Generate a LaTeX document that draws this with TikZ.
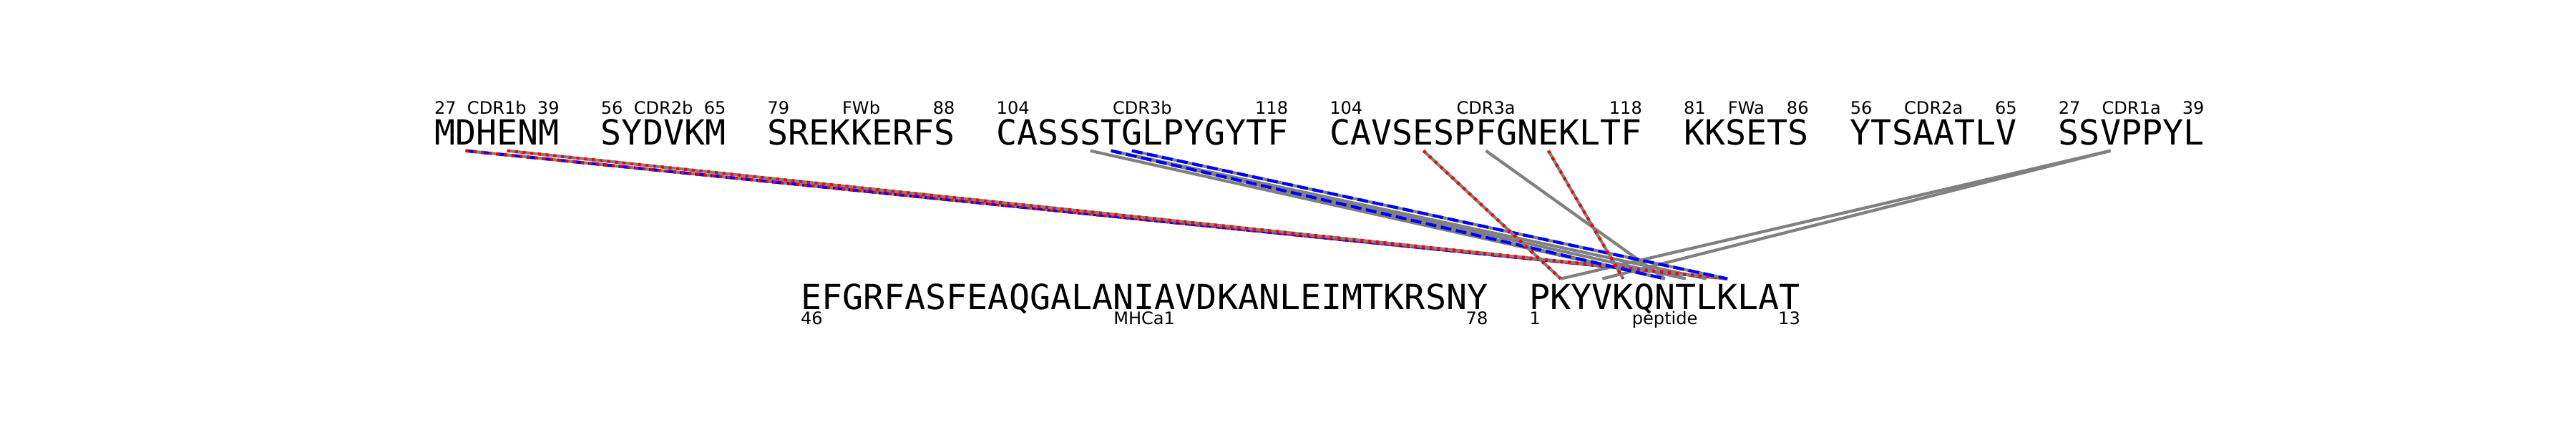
\documentclass[tikz,border=0pt]{standalone}
\usepackage{fontspec}
\usepackage{tikz}
\usetikzlibrary{calc}
\newfontfamily\seqfont{DejaVu Sans Mono}
\newfontfamily\labfont{DejaVu Sans}
\newcommand{\resw}{0.291}
% one node per residue, #1 name, #2 x of first cell, #3 baseline, #4 letters
\newcommand{\seqrow}[4]{%
  \foreach \c [count=\i] in {#4}
    \node[res] (#1-\i) at ({#2+(\i-0.5)*\resw},#3) {\c};}
% numbers and name of a segment, #6 = shift from the baseline
\newcommand{\seglabel}[6]{%
  \node[lab, anchor=base west] (#1-lo) at ([yshift=#6]#1-1.base west) {#3};
  \node[lab, anchor=base] (#1-name) at ($(#1-1.base west)!0.5!(#1-#2.base east)+(0,#6)$) {#4};
  \node[lab, anchor=base east] (#1-hi) at ([yshift=#6]#1-#2.base east) {#5};}
% contact line from a TCR residue down to a pMHC residue
\newcommand{\link}[3]{%
  \draw[#1] ([yshift=-0.08cm]#2.south) -- ([yshift=0.065cm]#3.north);}

\begin{document}
\begin{tikzpicture}[
  res/.style     = {inner sep=0pt, anchor=base,
                    text height=0.352cm, text depth=0pt,
                    font=\seqfont\fontsize{13.75}{16}\selectfont},
  lab/.style     = {inner sep=0pt, font=\labfont\fontsize{6.85}{8}\selectfont},
  contact/.style = {draw=gray, line width=0.042cm},
  hbond/.style   = {contact, postaction={draw=red, line width=0.042cm,
                    dash pattern=on 0.042cm off 0.066cm}},
  salt/.style    = {contact, postaction={draw=blue, line width=0.042cm,
                    dash pattern=on 0.15cm off 0.065cm}},
  hbsalt/.style  = {salt, postaction={draw=red, line width=0.042cm,
                    dash pattern=on 0.042cm off 0.066cm}},
]
\useasboundingbox (0,0) rectangle (36,6);
\fill[white] (0,0) rectangle (36,6);

%% --- TCR row ---
\seqrow{cdr1b}{6.070}{3.98}{M,D,H,E,N,M}
\seqrow{cdr2b}{8.398}{3.98}{S,Y,D,V,K,M}
\seqrow{fwb}{10.726}{3.98}{S,R,E,K,K,E,R,F,S}
\seqrow{cdr3b}{13.927}{3.98}{C,A,S,S,S,T,G,L,P,Y,G,Y,T,F}
\seqrow{cdr3a}{18.583}{3.98}{C,A,V,S,E,S,P,F,G,N,E,K,L,T,F}
\seqrow{fwa}{23.530}{3.98}{K,K,S,E,T,S}
\seqrow{cdr2a}{25.858}{3.98}{Y,T,S,A,A,T,L,V}
\seqrow{cdr1a}{28.768}{3.98}{S,S,V,P,P,Y,L}

\seglabel{cdr1b}{6}{27}{CDR1b}{39}{0.43cm}
\seglabel{cdr2b}{6}{56}{CDR2b}{65}{0.43cm}
\seglabel{fwb}{9}{79}{FWb}{88}{0.43cm}
\seglabel{cdr3b}{14}{104}{CDR3b}{118}{0.43cm}
\seglabel{cdr3a}{15}{104}{CDR3a}{118}{0.43cm}
\seglabel{fwa}{6}{81}{FWa}{86}{0.43cm}
\seglabel{cdr2a}{8}{56}{CDR2a}{65}{0.43cm}
\seglabel{cdr1a}{7}{27}{CDR1a}{39}{0.43cm}

%% --- pMHC row ---
\seqrow{mhc}{11.190}{1.68}{E,F,G,R,F,A,S,F,E,A,Q,G,A,L,A,N,I,A,V,D,K,A,N,L,E,I,M,T,K,R,S,N,Y}
\seqrow{pep}{21.375}{1.68}{P,K,Y,V,K,Q,N,T,L,K,L,A,T}

\seglabel{mhc}{33}{46}{MHCa1}{78}{-0.21cm}
\seglabel{pep}{13}{1}{peptide}{13}{-0.21cm}

%% --- Contacts ---
\link{contact}{cdr3b-5}{pep-7}
\link{contact}{cdr3b-6}{pep-8}
\link{contact}{cdr3b-6}{pep-9}
\link{contact}{cdr3a-8}{pep-7}
\link{contact}{cdr1a-3}{pep-2}
\link{contact}{cdr1a-3}{pep-4}
\link{hbsalt}{cdr1b-2}{pep-10}
\link{hbond}{cdr1b-4}{pep-10}
\link{salt}{cdr3b-6}{pep-7}
\link{salt}{cdr3b-7}{pep-10}
\link{hbond}{cdr3a-5}{pep-2}
\link{hbond}{cdr3a-11}{pep-5}

\end{tikzpicture}
\end{document}
